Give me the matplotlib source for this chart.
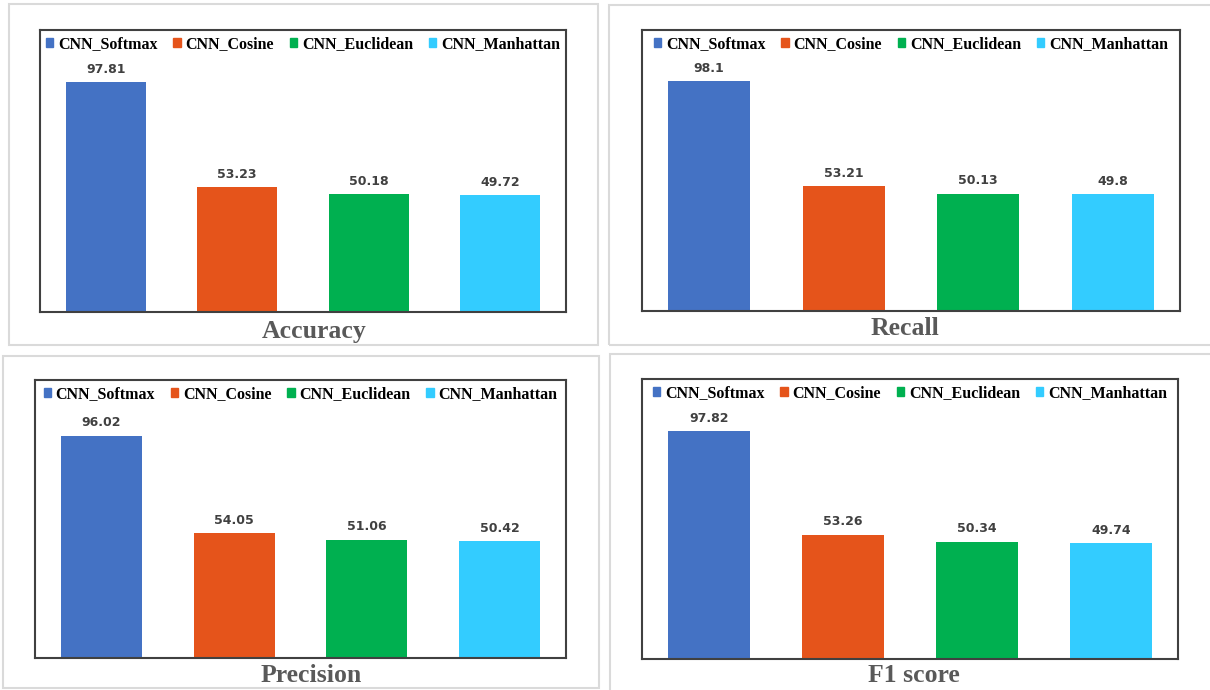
import matplotlib
matplotlib.use("Agg")
import matplotlib.pyplot as plt
from matplotlib.patches import Rectangle

models = ["CNN_Softmax", "CNN_Cosine", "CNN_Euclidean", "CNN_Manhattan"]
colors = ["#4472C4", "#E5541B", "#00B050", "#33CCFF"]
metrics = ["Accuracy", "Recall", "Precision", "F1 score"]
accuracy = [97.81, 53.23, 50.18, 49.72]
recall = [98.1, 53.21, 50.13, 49.8]
precision = [96.02, 54.05, 51.06, 50.42]
f1_score = [97.82, 53.26, 50.34, 49.74]
series = [accuracy, recall, precision, f1_score]

W, H = 1210, 690
fig = plt.figure(figsize=(W / 100, H / 100), dpi=100)

# pixel layouts: (axes left, right, top, bottom), (outer box x0, x1, y0, y1), (title x, y)
axes_px = [(40, 566, 30, 312), (642, 1180, 30, 311), (35, 566, 380, 658), (642, 1178, 379, 659)]
outer_px = [(9, 598, 4, 345), (609, 1215, 5, 345), (3, 599, 356, 688), (610, 1215, 354, 695)]
title_px = [(314, 331), (905, 328), (311, 675), (914, 676)]

for (x0, x1, y0, y1) in outer_px:
    fig.patches.append(Rectangle((x0 / W, 1 - y1 / H), (x1 - x0) / W, (y1 - y0) / H,
                                 transform=fig.transFigure, fill=False,
                                 edgecolor="#DADADA", linewidth=1.5, zorder=0))

for i, vals in enumerate(series):
    l, r, t, b = axes_px[i]
    ax = fig.add_axes([l / W, 1 - b / H, (r - l) / W, (b - t) / H])
    xs = list(range(len(models)))
    ax.bar(xs, vals, width=0.61, color=colors, zorder=2)
    for x, v in zip(xs, vals):
        ax.annotate(f"{v:g}", (x, v), xytext=(0, 4.5), textcoords="offset points",
                    ha="center", va="bottom", fontsize=9, fontweight="bold",
                    color="#404040", family="DejaVu Sans")
    ax.set_xlim(-0.5, 3.5)
    ax.set_ylim(0, 120)
    ax.set_xticks([])
    ax.set_yticks([])
    for s in ax.spines.values():
        s.set_color("#404040")
        s.set_linewidth(1.5)
    handles = [Rectangle((0, 0), 1, 1, color=c) for c in colors]
    ax.legend(handles, models, ncol=4, loc="upper center", frameon=False,
              handlelength=0.45, handleheight=0.45, handletextpad=0.3,
              columnspacing=1.0, borderaxespad=0.0,
              prop={"family": "Liberation Serif", "weight": "bold", "size": 11.5})
    tx, ty = title_px[i]
    fig.text(tx / W, 1 - ty / H, metrics[i], ha="center", va="center",
             fontsize=18.5, fontweight="bold", color="#595959", family="Liberation Serif")

fig.savefig("out.png", dpi=100)
